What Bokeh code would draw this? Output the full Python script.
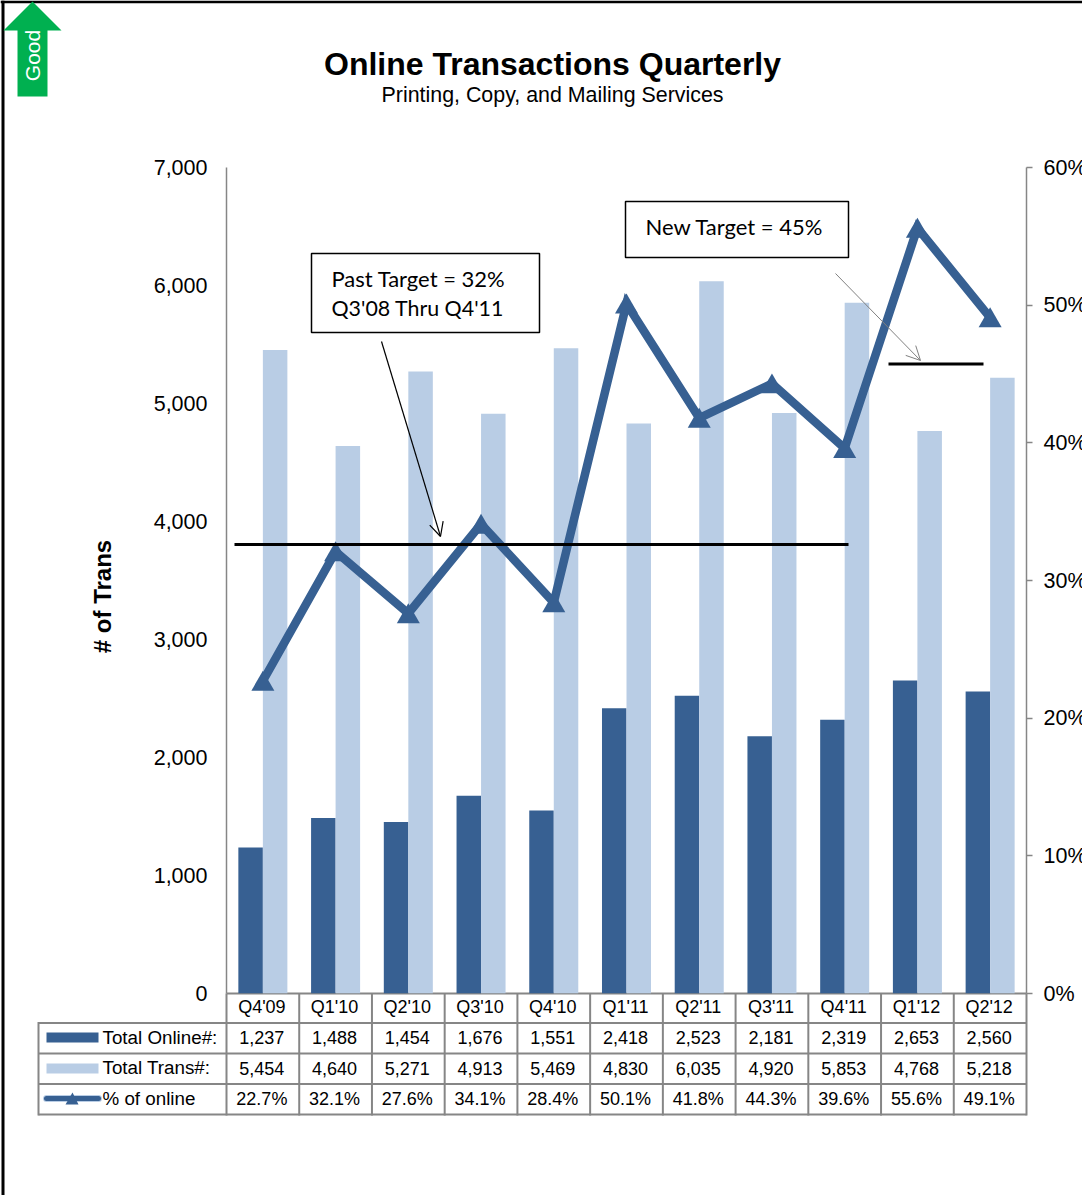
from bokeh.plotting import figure
from bokeh.embed import file_html
from bokeh.resources import INLINE
from bokeh.core.properties import value
from bokeh.transform import dodge
from bokeh.models import (ColumnDataSource, FactorRange, Range1d, LinearAxis, FixedTicker,
                          NumeralTickFormatter, PrintfTickFormatter, Label,
                          BoxAnnotation, Arrow, OpenHead)

quarters = ["Q4'09", "Q1'10", "Q2'10", "Q3'10", "Q4'10", "Q1'11", "Q2'11", "Q3'11", "Q4'11", "Q1'12", "Q2'12"]
total_online = [1237, 1488, 1454, 1676, 1551, 2418, 2523, 2181, 2319, 2653, 2560]
total_trans = [5454, 4640, 5271, 4913, 5469, 4830, 6035, 4920, 5853, 4768, 5218]
pct_online = [22.7, 32.1, 27.6, 34.1, 28.4, 50.1, 41.8, 44.3, 39.6, 55.6, 49.1]
left_ticks = [0, 1000, 2000, 3000, 4000, 5000, 6000, 7000]
right_ticks = [0, 10, 20, 30, 40, 50, 60]

DARK, LIGHT, GRAY = "#376092", "#B9CDE5", "#868686"
ARIAL = "Liberation Sans"
W, H = 1082, 1195
F_L, F_R, F_T, F_B = 226, 1026, 167, 993
COL = (F_R - F_L) / len(quarters)
PIN = ":host{position:absolute !important;left:0 !important;top:0 !important;width:%dpx !important;height:%dpx !important;overflow:hidden !important}" % (W, H)

# ---------- page layer: everything that lies outside the chart's plot area ----------
page = figure(width=W, height=H, x_range=Range1d(0, W), y_range=Range1d(H, 0),
              x_axis_location=None, y_axis_location=None, min_border=0,
              output_backend="svg", toolbar_location=None, outline_line_color=None,
              background_fill_color="white", border_fill_color="white")
page.xgrid.visible = False
page.ygrid.visible = False
page.stylesheets = [PIN]


def ptext(x, y, s, size, style="normal", align="left", color="black", angle=0):
    page.text(x=[x - 1], y=[y - 1], text=[s], text_font=value(ARIAL), text_font_size=size,
              text_font_style=style, text_align=align, text_baseline="middle",
              text_color=color, angle=angle, angle_units="deg")


def pline(x0, y0, x1, y1, color=GRAY, width=2, cap="butt"):
    page.segment(x0=[x0], y0=[y0], x1=[x1], y1=[y1], line_color=color, line_width=width, line_cap=cap)


def pbox(l, t, r, b, fill):
    page.quad(left=[l], right=[r], top=[t], bottom=[b], fill_color=fill, line_color=None)


pbox(0, 0, W, 2.7, "black")
pbox(1, 0, 4, H, "black")

page.patch(x=[32, 61, 47, 47, 17, 17, 3], y=[1, 30, 30, 96, 96, 30, 30], fill_color="#00B050", line_color=None)
ptext(33, 56, "Good", "21px", color="white", align="center", angle=90)

ptext(553, 64, "Online Transactions Quarterly", "32px", style="bold", align="center")
ptext(553, 95, "Printing, Copy, and Mailing Services", "21.4px", align="center")
ptext(103, 597, "# of Trans", "24px", style="bold", align="center", angle=90)

ROWS = [F_B, 1022.5, 1053, 1083.5, 1114]
for y in ROWS[1:]:
    pline(38, y, F_R, y)
pline(F_L, F_B, F_R, F_B)
pline(38, ROWS[1] - 1, 38, ROWS[-1] + 1)
for i in range(len(quarters) + 1):
    pline(F_L + i * COL, ROWS[0], F_L + i * COL, ROWS[-1] + 1)

cells = [quarters,
         [f"{v:,}" for v in total_online],
         [f"{v:,}" for v in total_trans],
         [f"{v:.1f}%" for v in pct_online]]
row_y = [1006, 1037, 1067.5, 1098]
col_x = [F_L + (i + 0.5) * COL - 1 for i in range(len(quarters))]
for labels, y in zip(cells, row_y):
    page.text(x=col_x, y=[y] * len(labels), text=labels, text_font=value(ARIAL), text_font_size="18px",
              text_color="black", text_align="center", text_baseline="middle")

ptext(103, 1038, "Total Online#:", "18.8px")
ptext(103, 1068, "Total Trans#:", "18.8px")
ptext(103, 1098.5, "% of online", "18.8px")
pbox(46, 1032, 98, 1042, DARK)
pbox(46, 1063, 98, 1073, LIGHT)
pline(46, 1098, 98, 1098, color=LIGHT, width=7, cap="round")
pline(46, 1098, 98, 1098, color=DARK, width=5, cap="round")
page.patch(x=[72, 78, 65], y=[1092, 1104, 1104], fill_color=DARK, line_color=None)

# ---------- chart layer ----------
p = figure(width=None, height=None, frame_width=F_R - F_L, frame_height=F_B - F_T,
           min_border_left=F_L, min_border_top=F_T, min_border_bottom=H - F_B, min_border_right=20,
           x_range=FactorRange(factors=quarters, range_padding=0), y_range=Range1d(0, 7000),
           output_backend="svg", toolbar_location=None, outline_line_color=None,
           background_fill_color=None, border_fill_color=None)
p.stylesheets = [PIN]
p.xgrid.visible = False
p.ygrid.visible = False
p.xaxis.visible = False

yl = p.yaxis[0]
yl.ticker = FixedTicker(ticks=left_ticks)
yl.formatter = NumeralTickFormatter(format="0,0")
yl.axis_line_color = GRAY
yl.axis_line_width = 1.5
yl.major_tick_line_color = None
yl.minor_tick_line_color = None
yl.major_label_text_font = ARIAL
yl.major_label_text_font_size = "21.5px"
yl.major_label_text_color = "black"
yl.major_label_standoff = 13

p.extra_y_ranges = {"pct": Range1d(0, 60)}
yr = LinearAxis(y_range_name="pct", ticker=FixedTicker(ticks=right_ticks),
                formatter=PrintfTickFormatter(format="%d%%"),
                axis_line_color=GRAY, axis_line_width=1.5,
                major_tick_line_color=GRAY, major_tick_line_width=1.5,
                major_tick_out=6, major_tick_in=0, minor_tick_line_color=None,
                major_label_text_font=ARIAL, major_label_text_font_size="21.5px",
                major_label_text_color="black", major_label_standoff=11)
p.add_layout(yr, "right")

src = ColumnDataSource(dict(q=quarters, online=total_online, trans=total_trans, pct=pct_online))
BAR = 0.337
p.vbar(x=dodge("q", -BAR / 2, range=p.x_range), top="online", width=BAR, source=src, color=DARK, line_width=0)
p.vbar(x=dodge("q", BAR / 2, range=p.x_range), top="trans", width=BAR, source=src, color=LIGHT, line_width=0)
p.line(x="q", y="pct", source=src, y_range_name="pct", color=DARK, line_width=8.5, line_join="miter")
p.scatter(x="q", y=dodge("pct", -0.22, range=p.extra_y_ranges["pct"]), source=src, y_range_name="pct",
          marker="triangle", size=23, color=DARK, line_width=0)


def rule(x0, y0, x1, y1, color, width, head=None):
    p.add_layout(Arrow(x_start=x0 - 1, y_start=y0 - 1, x_end=x1 - 1, y_end=y1 - 1,
                       start_units="canvas", end_units="canvas",
                       line_color=color, line_width=width, end=head))


def box(l, t, r, b):
    p.add_layout(BoxAnnotation(left=l - 1, right=r - 1, top=t - 1, bottom=b - 1,
                               left_units="canvas", right_units="canvas",
                               top_units="canvas", bottom_units="canvas",
                               fill_color="white", fill_alpha=1,
                               line_color="black", line_width=1.5, line_alpha=1))


def note(x, y, s, size="22px"):
    p.add_layout(Label(x=x - 1, y=y - 1, x_units="canvas", y_units="canvas", text=s,
                       text_font="Lato", text_font_size=size,
                       text_align="left", text_baseline="middle", text_color="black"))


rule(235, 545, 849, 545, "black", 3)
rule(889, 364.5, 984, 364.5, "black", 3)
rule(382, 342, 441, 537, "black", 1.2, OpenHead(size=14, line_color="black", line_width=1.2))
rule(836, 274, 921, 361, "#808080", 1, OpenHead(size=14, line_color="#808080", line_width=1))
box(312, 254, 540, 333)
note(332, 279, "Past Target = 32%")
note(332, 308, "Q3'08 Thru Q4'11", "21.4px")
box(626, 202, 849, 258)
note(646, 227, "New Target = 45%")

open("out.html", "w").write(file_html([page, p], INLINE))
